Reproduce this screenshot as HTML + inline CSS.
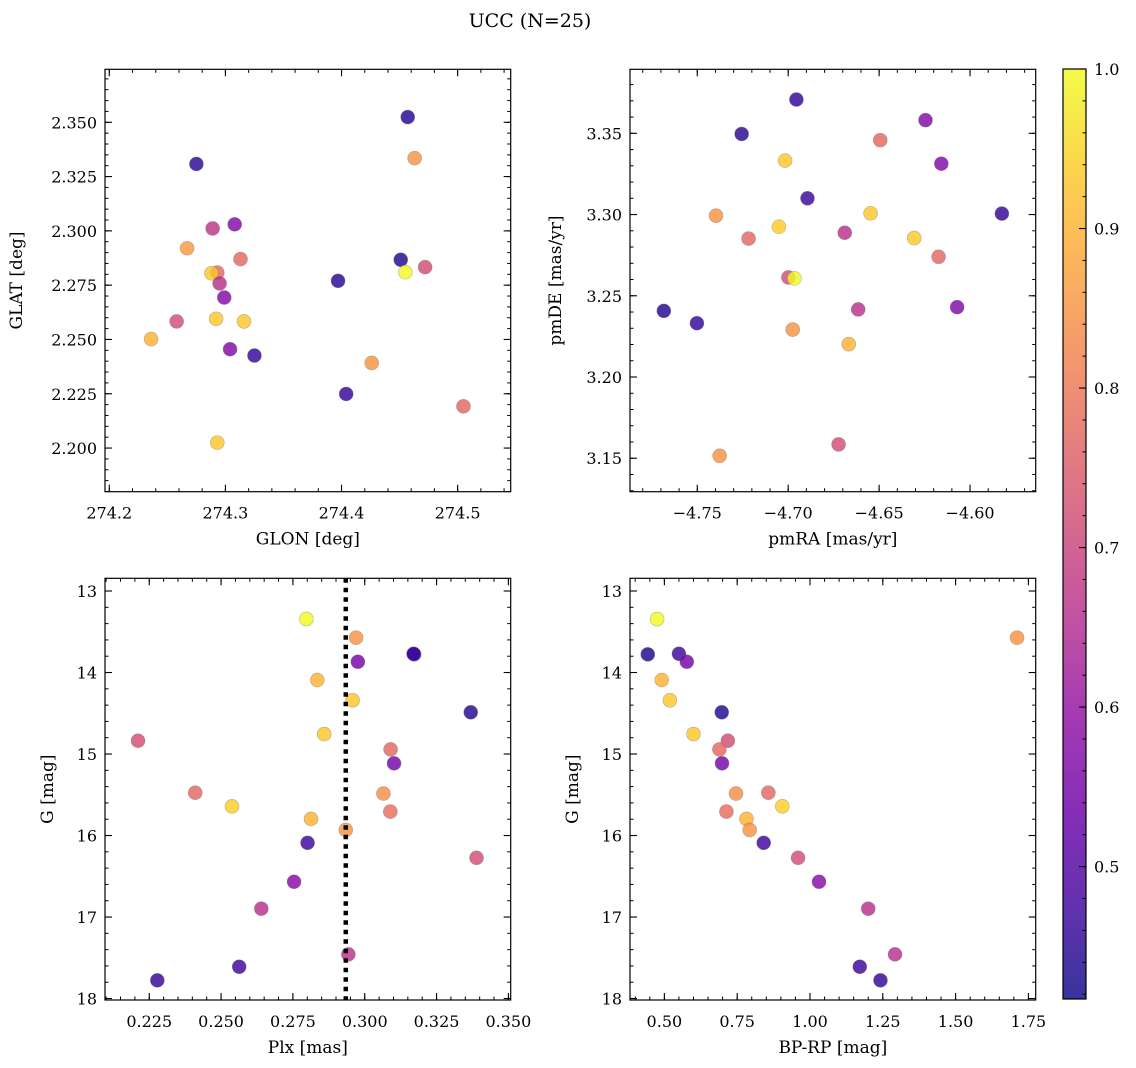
<!DOCTYPE html>
<html><head><meta charset="utf-8"><style>
html,body{margin:0;padding:0;background:#fff;}
svg{display:block;font-family:"DejaVu Serif","Liberation Serif",serif;}
</style></head><body>
<svg id="fig" width="1136" height="1068" viewBox="0 0 1136 1068" xmlns="http://www.w3.org/2000/svg">
<rect width="1136" height="1068" fill="#fff"/>
<text x="530" y="27" text-anchor="middle" font-size="19">UCC (N=25)</text>
</svg>
<script>
// Panel 1: GLON / GLAT
const glon = [274.275,274.457,274.463,274.289,274.308,274.267,274.313,274.451,274.472,274.455,274.293,274.288,274.295,274.397,274.299,274.258,274.292,274.316,274.236,274.304,274.325,274.426,274.404,274.505,274.293];
const glat = [2.3308,2.3524,2.3335,2.3011,2.3030,2.2920,2.2870,2.2867,2.2833,2.2810,2.2808,2.2805,2.2758,2.2770,2.2693,2.2583,2.2595,2.2583,2.2502,2.2455,2.2426,2.2392,2.2249,2.2192,2.2025];
const prob1 = [0.45,0.44,0.85,0.67,0.57,0.86,0.77,0.44,0.72,1.0,0.77,0.93,0.66,0.45,0.57,0.72,0.93,0.93,0.9,0.57,0.46,0.85,0.46,0.77,0.93];
// Panel 2: pmRA / pmDE
const pmra = [-4.6955,-4.7256,-4.6245,-4.6494,-4.7017,-4.6158,-4.6894,-4.7397,-4.6547,-4.5825,-4.7051,-4.7218,-4.6689,-4.6307,-4.6173,-4.6999,-4.6966,-4.7684,-4.7502,-4.6615,-4.6071,-4.6975,-4.6667,-4.6723,-4.7377];
const pmde = [3.3708,3.3496,3.3581,3.3458,3.3332,3.3313,3.3100,3.2993,3.3008,3.3006,3.2925,3.2852,3.2888,3.2855,3.2740,3.2613,3.2607,3.2407,3.2331,3.2416,3.2430,3.2292,3.2202,3.1585,3.1515];
const prob2 = [0.46,0.45,0.57,0.77,0.93,0.57,0.47,0.85,0.93,0.46,0.94,0.77,0.66,0.93,0.77,0.72,1.0,0.44,0.46,0.66,0.57,0.85,0.9,0.72,0.85];
// Panels 3 & 4: Plx, BP-RP, G
const gmag = [13.344,13.573,13.777,13.770,13.868,14.092,14.341,14.488,14.755,14.837,14.943,15.114,15.475,15.485,15.642,15.706,15.796,15.931,16.090,16.274,16.567,16.898,17.458,17.610,17.777];
const plx  = [0.2797,0.2970,0.3172,0.3170,0.2976,0.2835,0.2958,0.3369,0.2859,0.2211,0.3090,0.3102,0.2410,0.3065,0.2538,0.3089,0.2813,0.2934,0.2801,0.3389,0.2754,0.2640,0.2943,0.2563,0.2278];
const bprp = [0.475,1.711,0.443,0.550,0.577,0.491,0.519,0.697,0.600,0.718,0.689,0.698,0.857,0.746,0.905,0.713,0.782,0.793,0.841,0.959,1.031,1.200,1.292,1.171,1.242];
const prob34 = [1.0,0.85,0.43,0.47,0.55,0.9,0.93,0.44,0.93,0.72,0.77,0.55,0.77,0.84,0.94,0.78,0.9,0.85,0.47,0.72,0.58,0.66,0.66,0.47,0.46];
const plxMedian = [0.2934];
// ticks
const t1x = [274.2,274.3,274.4,274.5]; const t1xl = ["274.2","274.3","274.4","274.5"];
const t1y = [2.200,2.225,2.250,2.275,2.300,2.325,2.350]; const t1yl = ["2.200","2.225","2.250","2.275","2.300","2.325","2.350"];
const t2x = [-4.75,-4.70,-4.65,-4.60]; const t2xl = ["−4.75","−4.70","−4.65","−4.60"];
const t2y = [3.15,3.20,3.25,3.30,3.35]; const t2yl = ["3.15","3.20","3.25","3.30","3.35"];
const t3x = [0.225,0.250,0.275,0.300,0.325,0.350]; const t3xl = ["0.225","0.250","0.275","0.300","0.325","0.350"];
const tGy = [13,14,15,16,17,18]; const tGyl = ["13","14","15","16","17","18"];
const t4x = [0.50,0.75,1.00,1.25,1.50,1.75]; const t4xl = ["0.50","0.75","1.00","1.25","1.50","1.75"];
const tcb = [0.5,0.6,0.7,0.8,0.9,1.0]; const tcbl = ["0.5","0.6","0.7","0.8","0.9","1.0"];

const NS = "http://www.w3.org/2000/svg";
const svg = document.getElementById('fig');
const VMIN = 0.417, VMAX = 1.0;
const FS = 16;
const stops = ["#0d0887","#41049d","#6a00a8","#8f0da4","#b12a90","#cc4778","#e16462","#f2844b","#fca636","#fcce25","#f0f921"];
function hex(h){return [parseInt(h.substr(1,2),16),parseInt(h.substr(3,2),16),parseInt(h.substr(5,2),16)];}
function plasma(t){t=Math.max(0,Math.min(1,t));const s=t*10;const i=Math.min(9,Math.floor(s));const f=s-i;const a=hex(stops[i]),b=hex(stops[i+1]);
 return 'rgb('+a.map((v,k)=>Math.round(v+(b[k]-v)*f)).join(',')+')';}
function colorOf(p){return plasma((p-VMIN)/(VMAX-VMIN));}
function mk(tag,attrs,parent){const e=document.createElementNS(NS,tag);for(const k in attrs)e.setAttribute(k,attrs[k]);(parent||svg).appendChild(e);return e;}

function panel(cfg){
 const g=mk('g',{});
 
 
 const L=cfg.box[0],T=cfg.box[1],R=cfg.box[2],B=cfg.box[3];
 const sx=v=>L+(v-cfg.xlim[0])/(cfg.xlim[1]-cfg.xlim[0])*(R-L);
 const sy=v=>T+(cfg.ylim[1]-v)/(cfg.ylim[1]-cfg.ylim[0])*(B-T);
 const pg=mk('g',{},g);
 
 
 for(let i=0;i<cfg.xs.length;i++){
  const c=mk('circle',{cx:sx(cfg.xs[i]),cy:sy(cfg.ys[i]),r:7,fill:colorOf(cfg.ps[i]),'fill-opacity':0.82,stroke:'#777','stroke-opacity':0.5,'stroke-width':0.6},pg);
  
  
 }
 if(cfg.vline){
  const vl=mk('line',{x1:sx(cfg.vline[0]),x2:sx(cfg.vline[0]),y1:T,y2:B,stroke:'#000','stroke-width':4.5,'stroke-dasharray':'4.5,5'},g);
  
  
 }
 const fr=mk('rect',{x:L,y:T,width:R-L,height:B-T,fill:'none',stroke:'#000','stroke-width':1.2},g);
 
 
 const eps=1e-9;
 const xmin=Math.min(...cfg.xlim),xmax=Math.max(...cfg.xlim);
 for(let v=Math.ceil(xmin/cfg.xminor-eps)*cfg.xminor;v<=xmax+eps;v+=cfg.xminor){const x=sx(v);
  mk('line',{x1:x,x2:x,y1:B,y2:B-3.5,stroke:'#000','stroke-width':1},g);mk('line',{x1:x,x2:x,y1:T,y2:T+3.5,stroke:'#000','stroke-width':1},g);}
 const ymin=Math.min(...cfg.ylim),ymax=Math.max(...cfg.ylim);
 for(let v=Math.ceil(ymin/cfg.yminor-eps)*cfg.yminor;v<=ymax+eps;v+=cfg.yminor){const y=sy(v);
  mk('line',{x1:L,x2:L+3.5,y1:y,y2:y,stroke:'#000','stroke-width':1},g);mk('line',{x1:R,x2:R-3.5,y1:y,y2:y,stroke:'#000','stroke-width':1},g);}
 cfg.xt.forEach((v,i)=>{const x=sx(v);
  mk('line',{x1:x,x2:x,y1:B,y2:B-7,stroke:'#000','stroke-width':1.1},g);mk('line',{x1:x,x2:x,y1:T,y2:T+7,stroke:'#000','stroke-width':1.1},g);
  const t=mk('text',{x:x,y:B+27,'text-anchor':'middle','font-size':FS},g);t.textContent=cfg.xtl[i];
  
  });
 cfg.yt.forEach((v,i)=>{const y=sy(v);
  mk('line',{x1:L,x2:L+7,y1:y,y2:y,stroke:'#000','stroke-width':1.1},g);mk('line',{x1:R,x2:R-7,y1:y,y2:y,stroke:'#000','stroke-width':1.1},g);
  const t=mk('text',{x:L-8,y:y+6,'text-anchor':'end','font-size':FS},g);t.textContent=cfg.ytl[i];
  
  });
 const xl=mk('text',{x:(L+R)/2,y:B+53,'text-anchor':'middle','font-size':17},g);xl.textContent=cfg.xlabel;
 
 
 const yl=mk('text',{x:cfg.ylx,y:(T+B)/2,'text-anchor':'middle','font-size':17,transform:'rotate(-90 '+cfg.ylx+' '+((T+B)/2)+')'},g);yl.textContent=cfg.ylabel;
 
 
}

panel({name:'glon-glat-panel',box:[105,69.3,510.7,491.7],xlim:[274.1963,274.5457],ylim:[2.1799,2.3744],xs:glon,ys:glat,ps:prob1,xt:t1x,xtl:t1xl,yt:t1y,ytl:t1yl,xminor:0.02,yminor:0.005,xlabel:'GLON [deg]',ylabel:'GLAT [deg]',ylx:22});
panel({name:'pm-panel',box:[630,69.3,1035.7,491.7],xlim:[-4.7870,-4.5639],ylim:[3.1294,3.3894],xs:pmra,ys:pmde,ps:prob2,xt:t2x,xtl:t2xl,yt:t2y,ytl:t2yl,xminor:0.01,yminor:0.01,xlabel:'pmRA [mas/yr]',ylabel:'pmDE [mas/yr]',ylx:561});
panel({name:'plx-g-panel',box:[105,578.3,510.7,1000],xlim:[0.2096,0.3508],ylim:[18.018,12.844],xs:plx,ys:gmag,ps:prob34,xt:t3x,xtl:t3xl,yt:tGy,ytl:tGyl,xminor:0.005,yminor:0.2,xlabel:'Plx [mas]',ylabel:'G [mag]',ylx:53,vline:plxMedian});
panel({name:'cmd-panel',box:[630,578.3,1035.7,1000],xlim:[0.382,1.775],ylim:[18.018,12.844],xs:bprp,ys:gmag,ps:prob34,xt:t4x,xtl:t4xl,yt:tGy,ytl:tGyl,xminor:0.05,yminor:0.2,xlabel:'BP-RP [mag]',ylabel:'G [mag]',ylx:578});

(function(){
 const L=1063,R=1086,T=69,B=999;
 const cg=mk('g',{});
 
 
 const defs=mk('defs',{},cg);
 const lg=mk('linearGradient',{id:'cbg',x1:0,y1:1,x2:0,y2:0},defs);
 for(let i=0;i<=20;i++){const p=VMIN+(VMAX-VMIN)*i/20;mk('stop',{offset:i/20,'stop-color':colorOf(p),'stop-opacity':0.82},lg);}
 mk('rect',{x:L,y:T,width:R-L,height:B-T,fill:'url(#cbg)'},cg);
 mk('rect',{x:L,y:T,width:R-L,height:B-T,fill:'none',stroke:'#000','stroke-width':1.2},cg);
 const sy=v=>B-(v-VMIN)/(VMAX-VMIN)*(B-T);
 for(let v=0.42;v<=1.0001;v+=0.02){mk('line',{x1:R,x2:R-3.5,y1:sy(v),y2:sy(v),stroke:'#000','stroke-width':1},cg);}
 tcb.forEach((v,i)=>{const y=sy(v);mk('line',{x1:R,x2:R-7,y1:y,y2:y,stroke:'#000','stroke-width':1.1},cg);
  const t=mk('text',{x:R+8,y:y+6,'font-size':FS},cg);t.textContent=tcbl[i];
  
  });
})();
</script>
</body></html>
